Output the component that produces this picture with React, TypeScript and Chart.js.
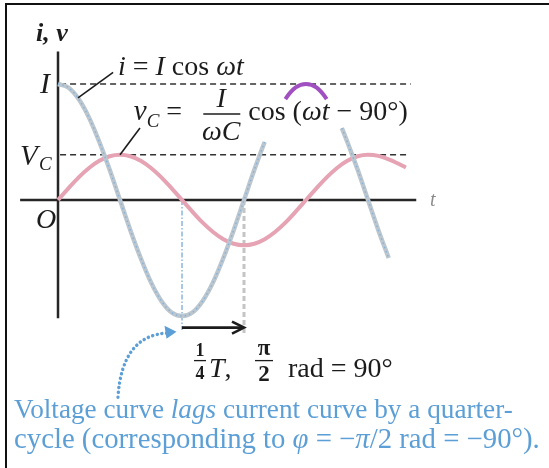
import React, { useEffect, useRef } from "react";
import { Chart, registerables } from "chart.js";

Chart.register(...registerables);

// Phase angle ωt in degrees, and the current i in units of its amplitude I
const currentPhase = [
  0, 15, 30, 45, 60, 75, 90, 105, 120, 135, 150, 165, 180, 195, 210, 225, 240,
  255, 270, 285, 300, 315, 330, 345, 360, 375, 390, 405, 412, 420, 435, 450,
  465, 480,
];
const currentValue = [
  1, 0.97, 0.87, 0.71, 0.5, 0.26, 0, -0.26, -0.5, -0.71, -0.87, -0.97, -1,
  -0.97, -0.87, -0.71, -0.5, -0.26, 0, 0.26, 0.5, 0.71, 0.87, 0.97, 1, 0.97,
  0.87, 0.71, 0.62, 0.5, 0.26, 0, -0.26, -0.5,
];

// Capacitor voltage v_C on the same vertical scale (peak V_C)
const voltagePhase = [
  0, 15, 30, 45, 60, 75, 90, 105, 120, 135, 150, 165, 180, 195, 210, 225, 240,
  255, 270, 285, 300, 315, 330, 345, 360, 375, 390, 405, 420, 435, 450, 465,
  480, 495, 505,
];
const voltageValue = [
  0, 0.1, 0.195, 0.276, 0.338, 0.377, 0.39, 0.377, 0.338, 0.276, 0.195, 0.1, 0,
  -0.1, -0.195, -0.276, -0.338, -0.377, -0.39, -0.377, -0.338, -0.276, -0.195,
  -0.1, 0, 0.1, 0.195, 0.276, 0.338, 0.377, 0.39, 0.38, 0.35, 0.31, 0.28,
];

// Reference levels on the vertical axis
const LEVEL_I = 1;
const LEVEL_VC = 0.39;

// Quarter-cycle lag marked under the first current minimum
const QUARTER_FROM = 180;
const QUARTER_TO = 270;

// Parts of the current trace covered by the v_C formula, and the part left showing
const COVERED: [number, number][] = [
  [300, 330],
  [390, 412],
];
const PEAK_SHOWING: [number, number] = [330, 390];

const SERIF = '"Liberation Serif", "Times New Roman", "DejaVu Serif", serif';
const font = (size: number, style = "") => `${style} ${size}px ${SERIF}`.trim();
const BLUE = "#5c9fd6";
const INK = "#1c1c1c";

type Part = [string, string]; // text, font style

const inRange = (c: any, r: [number, number]) =>
  c.p0.parsed.x >= r[0] - 0.01 && c.p1.parsed.x <= r[1] + 0.01;
const covered = (c: any) => COVERED.some((r) => inRange(c, r));

function line(ctx: CanvasRenderingContext2D, x1: number, y1: number, x2: number, y2: number) {
  ctx.beginPath();
  ctx.moveTo(x1, y1);
  ctx.lineTo(x2, y2);
  ctx.stroke();
}

function runsWidth(ctx: CanvasRenderingContext2D, parts: Part[], size: number) {
  let w = 0;
  for (const [t, st] of parts) {
    ctx.font = font(size, st);
    w += ctx.measureText(t).width;
  }
  return w;
}

function drawRuns(ctx: CanvasRenderingContext2D, x: number, y: number, parts: Part[], size: number) {
  for (const [t, st] of parts) {
    ctx.font = font(size, st);
    ctx.fillText(t, x, y);
    x += ctx.measureText(t).width;
  }
  return x;
}

function fitRuns(ctx: CanvasRenderingContext2D, x: number, y: number, parts: Part[], width: number) {
  const base = 24;
  const size = (base * width) / runsWidth(ctx, parts, base);
  drawRuns(ctx, x, y, parts, size);
}

const figurePlugin = {
  id: "figure",
  beforeDatasetsDraw(chart: any) {
    const { ctx, scales } = chart;
    const px = (v: number) => scales.x.getPixelForValue(v);
    const py = (v: number) => scales.y.getPixelForValue(v);
    ctx.save();

    // frame
    ctx.strokeStyle = "#111";
    ctx.lineWidth = 2;
    ctx.beginPath();
    ctx.moveTo(6, chart.height);
    ctx.lineTo(6, 4);
    ctx.lineTo(chart.width, 4);
    ctx.stroke();

    // t axis and i,v axis
    ctx.strokeStyle = "#262626";
    ctx.lineWidth = 2.5;
    line(ctx, px(-55), py(0), px(356), py(0));
    line(ctx, px(363), py(0), px(520), py(0));
    line(ctx, px(0), py(1.28), px(0), py(-1.02));

    // amplitude levels
    ctx.lineWidth = 1.6;
    ctx.strokeStyle = "#333";
    ctx.setLineDash([6, 4]);
    line(ctx, px(3), py(LEVEL_I), px(512), py(LEVEL_I));
    line(ctx, px(3), py(LEVEL_VC), px(510), py(LEVEL_VC));

    // quarter-cycle drop lines
    ctx.setLineDash([5, 2, 1.5, 2]);
    ctx.strokeStyle = "#8ab6dc";
    ctx.lineWidth = 1.5;
    line(ctx, px(QUARTER_FROM), py(0), px(QUARTER_FROM), py(-1.12));
    ctx.setLineDash([5, 3]);
    ctx.strokeStyle = "#c4c4c4";
    ctx.lineWidth = 3;
    line(ctx, px(QUARTER_TO), py(0), px(QUARTER_TO), py(-1.16));
    ctx.restore();
  },
  afterDatasetsDraw(chart: any) {
    const { ctx, scales } = chart;
    const px = (v: number) => scales.x.getPixelForValue(v);
    const py = (v: number) => scales.y.getPixelForValue(v);
    const ox = px(0);
    const oy = py(0);
    ctx.save();
    ctx.fillStyle = INK;
    ctx.strokeStyle = INK;
    ctx.textBaseline = "alphabetic";

    // axis labels
    ctx.font = font(26, "italic bold");
    ctx.fillText("i, v", ox - 22, oy - 159);
    ctx.textAlign = "right";
    ctx.font = font(30, "italic");
    ctx.fillText("I", ox - 8, py(LEVEL_I) + 9);
    ctx.textAlign = "left";
    ctx.font = font(29, "italic");
    ctx.fillText("V", ox - 38, py(LEVEL_VC) + 10);
    ctx.font = font(19, "italic");
    ctx.fillText("C", ox - 19, py(LEVEL_VC) + 15);
    ctx.font = font(28, "italic");
    ctx.fillText("O", ox - 22, oy + 28);
    ctx.fillStyle = "#8c8c8c";
    ctx.font = font(20, "italic");
    ctx.fillText("t", px(540), oy + 6);
    ctx.fillStyle = INK;

    // i = I cos ωt, with leader to the current curve
    ctx.lineWidth = 1.6;
    line(ctx, px(29), py(0.88), px(80), py(1.1));
    drawRuns(ctx, px(87), py(LEVEL_I) - 9, [
      ["i", "italic"],
      [" = ", ""],
      ["I", "italic"],
      [" cos ", ""],
      ["ωt", "italic"],
    ], 28);

    // v_C = (I / ωC) cos(ωt − 90°), with leader to the voltage peak
    line(ctx, px(90), py(LEVEL_VC), px(119), py(0.62));
    const base = oy - 80;
    let x = drawRuns(ctx, px(110), base, [["v", "italic"]], 29);
    x = drawRuns(ctx, x, base + 7, [["C", "italic"]], 19);
    drawRuns(ctx, x + 7, base, [["=", ""]], 28);
    const fx = px(237);
    ctx.textAlign = "center";
    ctx.font = font(28, "italic");
    ctx.fillText("I", fx, base - 13);
    ctx.fillText("ωC", fx, base + 20);
    ctx.textAlign = "left";
    ctx.lineWidth = 1.6;
    line(ctx, fx - 18, base - 6, fx + 19, base - 6);
    drawRuns(ctx, fx + 27, base, [
      ["cos (", ""],
      ["ωt", "italic"],
      [" − 90°)", ""],
    ], 28);

    // quarter-cycle arrow
    const ay = py(-1.1);
    ctx.lineWidth = 2.6;
    line(ctx, px(QUARTER_FROM), ay, px(QUARTER_TO) - 1, ay);
    ctx.beginPath();
    ctx.moveTo(px(QUARTER_TO) - 12, ay - 6);
    ctx.lineTo(px(QUARTER_TO), ay);
    ctx.lineTo(px(QUARTER_TO) - 12, ay + 6);
    ctx.stroke();

    // ¼ T, π/2 rad = 90°
    const lb = ay + 49;
    const q1 = px(QUARTER_FROM) + 18;
    ctx.textAlign = "center";
    ctx.font = font(18, "bold");
    ctx.fillText("1", q1, lb - 21);
    ctx.fillText("4", q1, lb + 2);
    ctx.lineWidth = 1.3;
    line(ctx, q1 - 6, lb - 16, q1 + 6, lb - 16);
    const q2 = px(QUARTER_TO) + 20;
    ctx.font = font(23, "bold");
    ctx.fillText("π", q2, lb - 22);
    ctx.fillText("2", q2, lb + 4);
    line(ctx, q2 - 9, lb - 16, q2 + 9, lb - 16);
    ctx.textAlign = "left";
    drawRuns(ctx, q1 + 9, lb, [["T", "italic"], [",", ""]], 28);
    drawRuns(ctx, q2 + 24, lb, [["rad = 90°", ""]], 28);

    // curved dotted pointer to the current minimum
    const s = [px(87), py(-1.7)];
    const c = [px(93), py(-1.16)];
    const e = [px(160), py(-1.147)];
    ctx.strokeStyle = BLUE;
    ctx.fillStyle = BLUE;
    ctx.lineWidth = 3.4;
    ctx.lineCap = "round";
    ctx.setLineDash([0.1, 4.6]);
    ctx.beginPath();
    ctx.moveTo(s[0], s[1]);
    ctx.quadraticCurveTo(c[0], c[1], e[0], e[1]);
    ctx.stroke();
    ctx.setLineDash([]);
    const tip = [px(172), py(-1.135)];
    ctx.beginPath();
    ctx.moveTo(tip[0], tip[1]);
    ctx.lineTo(tip[0] - 12, tip[1] - 6);
    ctx.lineTo(tip[0] - 10, tip[1] + 7);
    ctx.closePath();
    ctx.fill();

    // caption
    fitRuns(ctx, 14, 418, [
      ["Voltage curve ", ""],
      ["lags", "italic"],
      [" current curve by a quarter-", ""],
    ], 499);
    fitRuns(ctx, 14, 448, [
      ["cycle (corresponding to ", ""],
      ["φ", "italic"],
      [" = −", ""],
      ["π", "italic"],
      ["/2 rad = −90°).", ""],
    ], 526);
    ctx.restore();
  },
};

export default function App() {
  const ref = useRef<HTMLCanvasElement>(null);

  useEffect(() => {
    const chart = new Chart(ref.current!, {
      type: "line",
      data: {
        datasets: [
          {
            label: "i",
            data: currentPhase.map((p, k) => ({ x: p, y: currentValue[k] })),
            borderColor: "#bcc6ce",
            borderWidth: 4.5,
            cubicInterpolationMode: "monotone",
            pointRadius: 0,
            order: 1,
            segment: {
              borderColor: (c: any) =>
                covered(c) ? "rgba(0,0,0,0)" : inRange(c, PEAK_SHOWING) ? "#a150c2" : undefined,
              borderWidth: (c: any) => (inRange(c, PEAK_SHOWING) ? 4 : undefined),
            },
          } as any,
          {
            label: "i (trace)",
            data: currentPhase.map((p, k) => ({ x: p, y: currentValue[k] })),
            borderColor: "#84b2da",
            borderWidth: 1.4,
            borderDash: [1.5, 3],
            cubicInterpolationMode: "monotone",
            pointRadius: 0,
            order: 0,
            segment: {
              borderColor: (c: any) =>
                covered(c) || inRange(c, PEAK_SHOWING) ? "rgba(0,0,0,0)" : undefined,
            },
          } as any,
          {
            label: "v_C",
            data: voltagePhase.map((p, k) => ({ x: p, y: voltageValue[k] })),
            borderColor: "#e6a3b3",
            borderWidth: 4,
            cubicInterpolationMode: "monotone",
            pointRadius: 0,
            order: 2,
          } as any,
        ],
      },
      options: {
        responsive: false,
        animation: false,
        layout: { padding: 0 },
        plugins: { legend: { display: false }, tooltip: { enabled: false } },
        scales: {
          x: { type: "linear", min: -84.2, max: 712.7, display: false },
          y: { type: "linear", min: -2.3103, max: 1.7241, display: false },
        },
      },
      plugins: [figurePlugin],
    });
    return () => chart.destroy();
  }, []);

  return (
    <div style={{ position: "absolute", left: 0, top: 0, width: 549, height: 468, background: "#fff" }}>
      <canvas ref={ref} width={549} height={468} style={{ display: "block", width: 549, height: 468 }} />
    </div>
  );
}
